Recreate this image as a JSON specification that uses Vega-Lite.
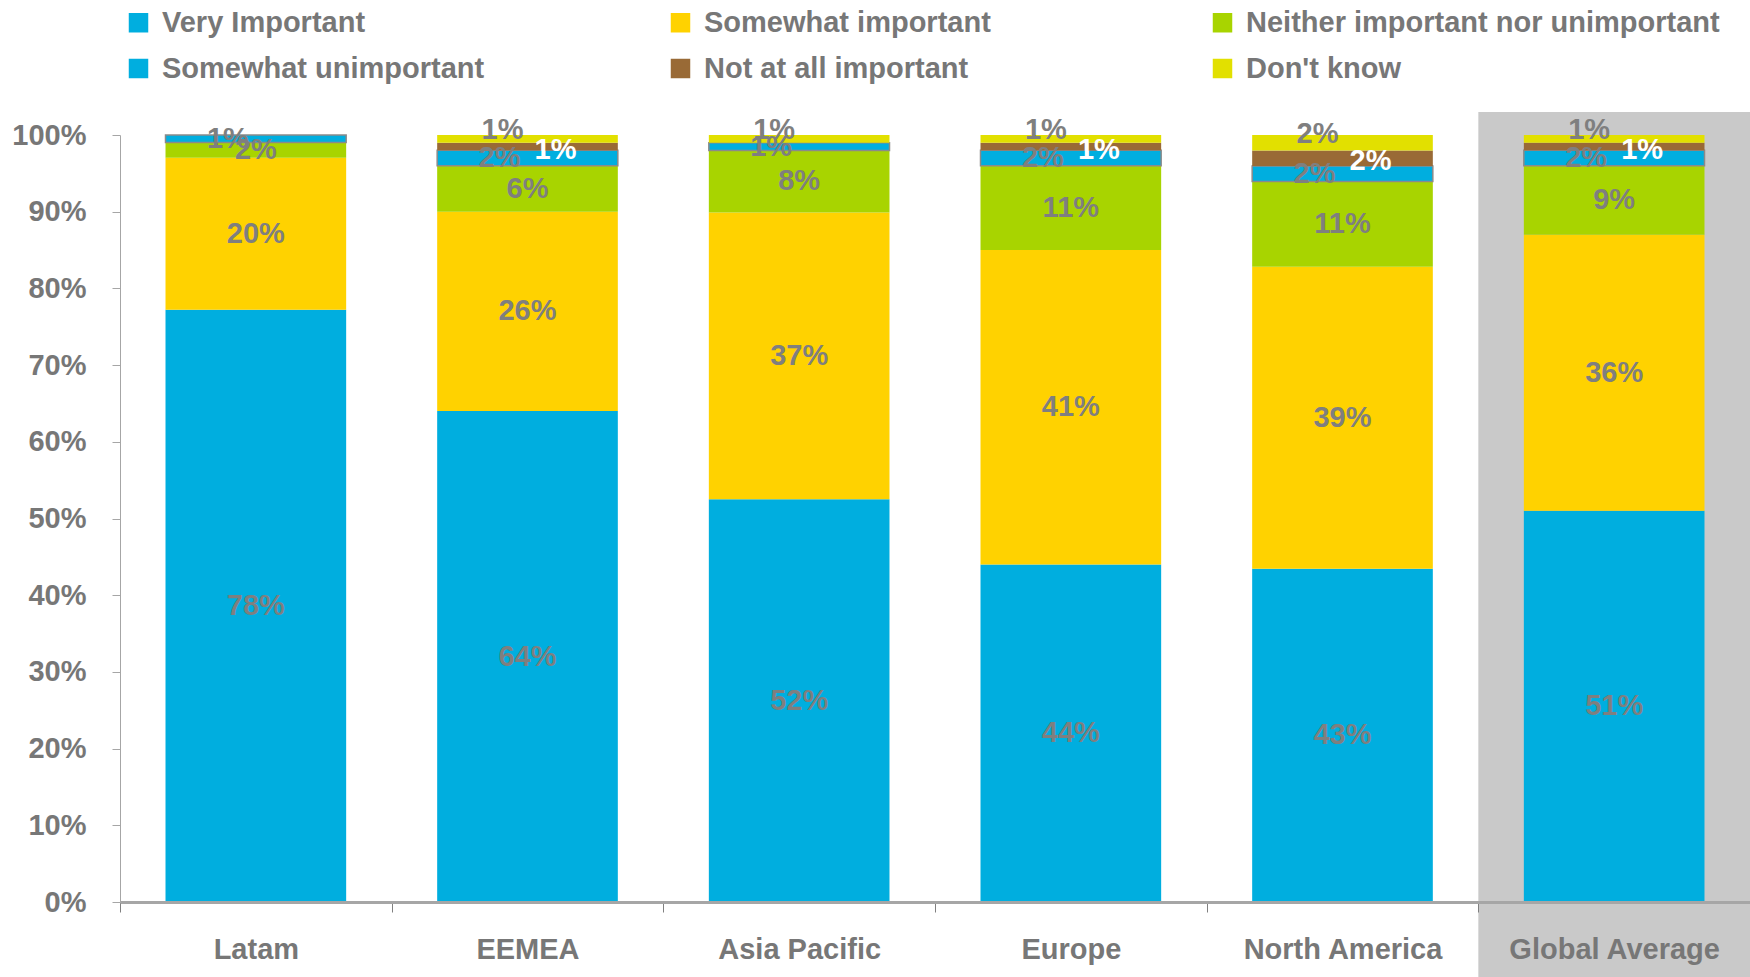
{
  "$schema": "https://vega.github.io/schema/vega-lite/v6.json",
  "width": 1630,
  "height": 767,
  "autosize": {"type": "none"},
  "padding": {"left": 120, "top": 135, "right": 0, "bottom": 75},
  "background": "white",
  "config": {"view": {"stroke": null}, "font": "Liberation Sans, Arial"},
  "datasets": {
    "bars": [
      {"cat": "Latam", "series": "Very Important", "rank": 1, "value": 0.78},
      {"cat": "Latam", "series": "Somewhat important", "rank": 2, "value": 0.20},
      {"cat": "Latam", "series": "Neither important nor unimportant", "rank": 3, "value": 0.02},
      {"cat": "Latam", "series": "Somewhat unimportant", "rank": 4, "value": 0.01},
      {"cat": "Latam", "series": "Not at all important", "rank": 5, "value": 0},
      {"cat": "Latam", "series": "Don't know", "rank": 6, "value": 0},
      {"cat": "EEMEA", "series": "Very Important", "rank": 1, "value": 0.64},
      {"cat": "EEMEA", "series": "Somewhat important", "rank": 2, "value": 0.26},
      {"cat": "EEMEA", "series": "Neither important nor unimportant", "rank": 3, "value": 0.06},
      {"cat": "EEMEA", "series": "Somewhat unimportant", "rank": 4, "value": 0.02},
      {"cat": "EEMEA", "series": "Not at all important", "rank": 5, "value": 0.01},
      {"cat": "EEMEA", "series": "Don't know", "rank": 6, "value": 0.01},
      {"cat": "Asia Pacific", "series": "Very Important", "rank": 1, "value": 0.52},
      {"cat": "Asia Pacific", "series": "Somewhat important", "rank": 2, "value": 0.37},
      {"cat": "Asia Pacific", "series": "Neither important nor unimportant", "rank": 3, "value": 0.08},
      {"cat": "Asia Pacific", "series": "Somewhat unimportant", "rank": 4, "value": 0.01},
      {"cat": "Asia Pacific", "series": "Not at all important", "rank": 5, "value": 0},
      {"cat": "Asia Pacific", "series": "Don't know", "rank": 6, "value": 0.01},
      {"cat": "Europe", "series": "Very Important", "rank": 1, "value": 0.44},
      {"cat": "Europe", "series": "Somewhat important", "rank": 2, "value": 0.41},
      {"cat": "Europe", "series": "Neither important nor unimportant", "rank": 3, "value": 0.11},
      {"cat": "Europe", "series": "Somewhat unimportant", "rank": 4, "value": 0.02},
      {"cat": "Europe", "series": "Not at all important", "rank": 5, "value": 0.01},
      {"cat": "Europe", "series": "Don't know", "rank": 6, "value": 0.01},
      {"cat": "North America", "series": "Very Important", "rank": 1, "value": 0.43},
      {"cat": "North America", "series": "Somewhat important", "rank": 2, "value": 0.39},
      {"cat": "North America", "series": "Neither important nor unimportant", "rank": 3, "value": 0.11},
      {"cat": "North America", "series": "Somewhat unimportant", "rank": 4, "value": 0.02},
      {"cat": "North America", "series": "Not at all important", "rank": 5, "value": 0.02},
      {"cat": "North America", "series": "Don't know", "rank": 6, "value": 0.02},
      {"cat": "Global Average", "series": "Very Important", "rank": 1, "value": 0.51},
      {"cat": "Global Average", "series": "Somewhat important", "rank": 2, "value": 0.36},
      {"cat": "Global Average", "series": "Neither important nor unimportant", "rank": 3, "value": 0.09},
      {"cat": "Global Average", "series": "Somewhat unimportant", "rank": 4, "value": 0.02},
      {"cat": "Global Average", "series": "Not at all important", "rank": 5, "value": 0.01},
      {"cat": "Global Average", "series": "Don't know", "rank": 6, "value": 0.01}
    ],
    "bg": [{"cat": "Global Average"}]
  },
  "layer": [
    {
      "data": {"name": "bg"},
      "mark": {"type": "rect", "color": "#c9c9c9"},
      "encoding": {
        "x": {"field": "cat", "type": "nominal",
              "scale": {"domain": ["Latam", "EEMEA", "Asia Pacific", "Europe", "North America", "Global Average"], "paddingInner": 0, "paddingOuter": 0},
              "axis": {"title": null, "labelAngle": 0, "tickBand": "extent", "tickSize": 10, "tickColor": "#808080",
                       "domainColor": "#a6a6a6", "domainWidth": 3, "labelPadding": 23, "labelLimit": 500,
                       "labelFontSize": 29, "labelFontWeight": "bold", "labelColor": "#777777", "zindex": 1}},
        "y": {"datum": 1.03, "type": "quantitative", "scale": {"domain": [0, 1], "nice": false},
              "axis": {"title": null, "format": ".0%", "values": [0, 0.1, 0.2, 0.3, 0.4, 0.5, 0.6, 0.7, 0.8, 0.9, 1],
                       "grid": false, "domainColor": "#a6a6a6", "tickColor": "#a6a6a6", "tickSize": 8, "labelPadding": 26,
                       "labelFontSize": 29, "labelFontWeight": "bold", "labelColor": "#777777", "zindex": 1}},
        "y2": {"datum": -0.1}
      }
    },
    {
      "data": {"name": "bars"},
      "encoding": {
        "x": {"field": "cat", "type": "nominal",
              "sort": ["Latam", "EEMEA", "Asia Pacific", "Europe", "North America", "Global Average"],
              "scale": {"paddingInner": 0.335, "paddingOuter": 0.1675},
              "axis": null},
        "y": {"field": "value", "type": "quantitative", "stack": "normalize",
              "scale": {"domain": [0, 1], "nice": false}},
        "order": {"field": "rank", "type": "quantitative"},
        "detail": {"field": "series", "type": "nominal"}
      },
      "layer": [
        {
          "mark": {"type": "bar", "stroke": "#8a8a8a", "strokeWidth": 1.5},
          "encoding": {
            "color": {"field": "series", "type": "nominal",
                      "sort": ["Very Important", "Somewhat important", "Neither important nor unimportant", "Somewhat unimportant", "Not at all important", "Don't know"],
                      "scale": {"domain": ["Very Important", "Somewhat important", "Neither important nor unimportant", "Somewhat unimportant", "Not at all important", "Don't know"],
                                "range": ["#00aedf", "#ffd200", "#a8d400", "#00aedf", "#996a36", "#e2e000"]},
                      "legend": {"orient": "none", "legendX": 4, "legendY": -127, "columns": 3, "direction": "horizontal", "gridAlign": "all",
                                 "columnPadding": 30, "rowPadding": 16, "symbolType": "square", "symbolSize": 380,
                                 "symbolStrokeWidth": 0, "labelFontSize": 29, "labelFontWeight": "bold",
                                 "labelColor": "#777777", "labelLimit": 800, "labelOffset": 9, "title": null, "padding": 0,
                                 "encode": {"symbols": {"update": {
                                   "stroke": {"signal": "datum.value === 'Somewhat unimportant' ? '#7f7f7f' : 'transparent'"},
                                   "strokeWidth": {"value": 2}}}}}},
            "strokeOpacity": {"condition": {"test": "datum.series === 'Somewhat unimportant'", "value": 1}, "value": 0}
          }
        },
        {
          "mark": {"type": "text", "fontSize": 29, "fontWeight": "bold", "color": "#7f7f7f", "align": "center", "baseline": "middle"},
          "encoding": {
            "y": {"field": "value", "type": "quantitative", "stack": "normalize", "bandPosition": 0.5, "scale": {"domain": [0, 1], "nice": false}},
            "text": {"field": "value", "type": "quantitative", "format": ".0%"},
            "opacity": {"condition": {"test": "indexof(['Very Important','Somewhat important','Neither important nor unimportant'], datum.series) >= 0", "value": 1}, "value": 0}
          }
        },
        {
          "mark": {"type": "text", "fontSize": 29, "fontWeight": "bold", "color": "#7f7f7f", "align": "center", "baseline": "middle", "dx": -28},
          "encoding": {
            "y": {"field": "value", "type": "quantitative", "stack": "normalize", "bandPosition": 0.5, "scale": {"domain": [0, 1], "nice": false}},
            "text": {"field": "value", "type": "quantitative", "format": ".0%"},
            "opacity": {"condition": {"test": "datum.series === 'Somewhat unimportant' && datum.value > 0", "value": 1}, "value": 0}
          }
        },
        {
          "mark": {"type": "text", "fontSize": 29, "fontWeight": "bold", "color": "white", "align": "center", "baseline": "middle", "dx": 28, "dy": 3},
          "encoding": {
            "y": {"field": "value", "type": "quantitative", "stack": "normalize", "bandPosition": 0.5, "scale": {"domain": [0, 1], "nice": false}},
            "text": {"field": "value", "type": "quantitative", "format": ".0%"},
            "opacity": {"condition": {"test": "datum.series === 'Not at all important' && datum.value > 0", "value": 1}, "value": 0}
          }
        },
        {
          "mark": {"type": "text", "fontSize": 29, "fontWeight": "bold", "color": "#7f7f7f", "align": "center", "baseline": "middle", "dx": -25, "dy": -9},
          "encoding": {
            "y": {"field": "value", "type": "quantitative", "stack": "normalize", "bandPosition": 0.5, "scale": {"domain": [0, 1], "nice": false}},
            "text": {"field": "value", "type": "quantitative", "format": ".0%"},
            "opacity": {"condition": {"test": "datum.series === \"Don't know\" && datum.value > 0", "value": 1}, "value": 0}
          }
        }
      ]
    }
  ],
  "resolve": {"scale": {"x": "independent"}}
}
